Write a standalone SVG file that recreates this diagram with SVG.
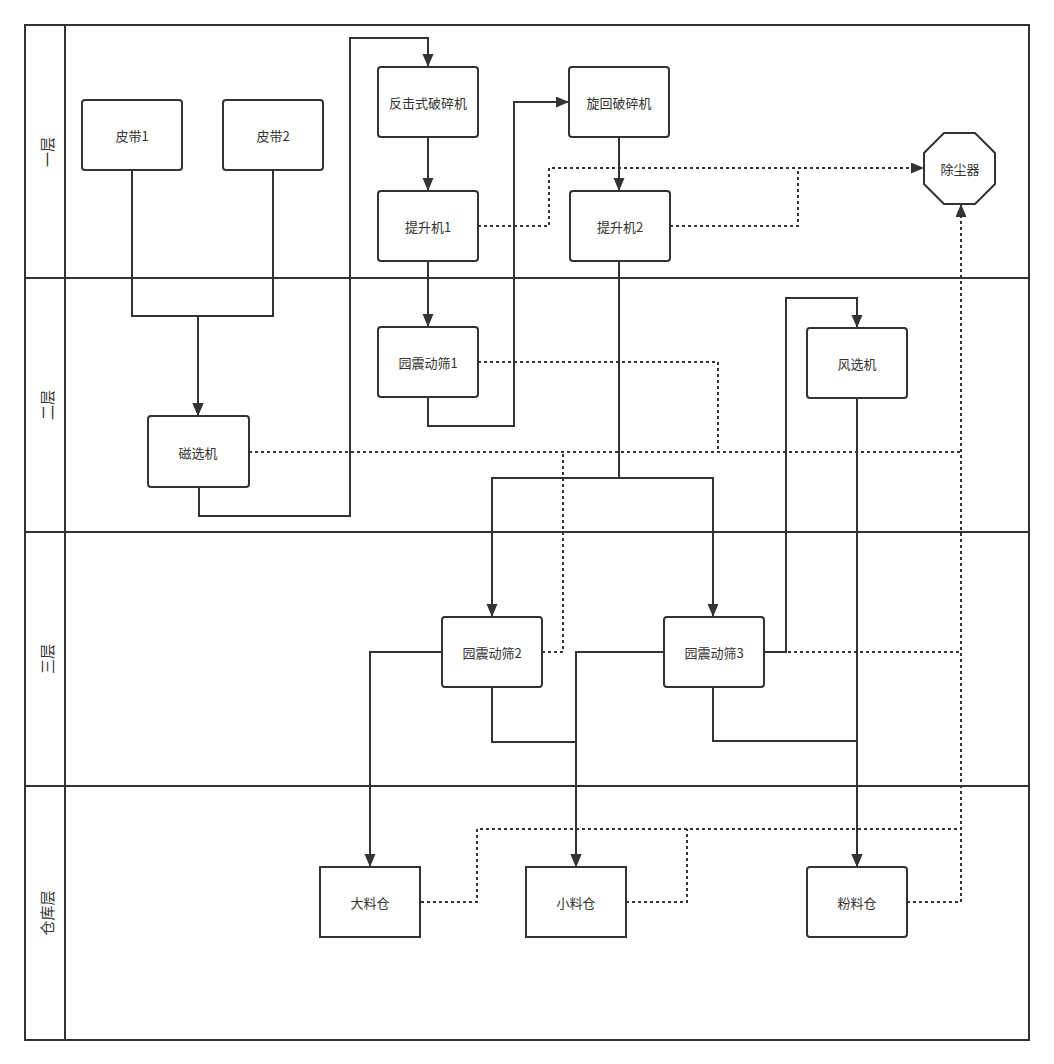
<svg xmlns="http://www.w3.org/2000/svg" width="1054" height="1064" viewBox="0 0 1054 1064">
<defs>
<marker id="arr" markerUnits="userSpaceOnUse" markerWidth="14" markerHeight="12" refX="13" refY="5.5" orient="auto">
<path d="M0,0 L13,5.5 L0,11 z" fill="#333"/>
</marker>
<style>
.lane{fill:none;stroke:#333;stroke-width:2}
.node{fill:#fff;stroke:#333;stroke-width:2}
.t{font-family:"Noto Sans CJK SC","Liberation Sans",sans-serif;font-size:13px;fill:#333;text-anchor:middle;dominant-baseline:central}
.lt{font-family:"Noto Sans CJK SC","Liberation Sans",sans-serif;font-size:15px;fill:#333;text-anchor:middle;dominant-baseline:central}
.c{fill:none;stroke:#333;stroke-width:2;marker-end:url(#arr)}
.d{fill:none;stroke:#333;stroke-width:2;stroke-dasharray:3 3}
.da{marker-end:url(#arr)}
</style>
</defs>
<rect width="1054" height="1064" fill="#fff"/>
<g id="lanes">
<rect class="lane" x="25" y="25" width="1004" height="1015"/>
<line class="lane" x1="65" y1="25" x2="65" y2="1040"/>
<line class="lane" x1="25" y1="278" x2="1029" y2="278"/>
<line class="lane" x1="25" y1="532" x2="1029" y2="532"/>
<line class="lane" x1="25" y1="786" x2="1029" y2="786"/>
<text class="lt" transform="translate(46,152) rotate(-90)">一层</text>
<text class="lt" transform="translate(46,405) rotate(-90)">二层</text>
<text class="lt" transform="translate(46,659) rotate(-90)">三层</text>
<text class="lt" transform="translate(46,913) rotate(-90)">仓库层</text>
</g>
<g id="connectors">
<path class="c" d="M132,170 V316 H198 V416"/>
<path class="c" d="M273,170 V316 H198 V416"/>
<path class="c" d="M199,487 V516 H350 V38 H428 V67"/>
<path class="c" d="M428,137 V191"/>
<path class="c" d="M428,261 V327"/>
<path class="c" d="M428,397 V426 H514 V102 H569"/>
<path class="c" d="M619,137 V191"/>
<path class="c" d="M619,261 V478 H492 V617"/>
<path class="c" d="M619,478 H713 V617"/>
<path class="c" d="M442,652 H370 V867"/>
<path class="c" d="M492,687 V742 H576 V867"/>
<path class="c" d="M664,652 H576 V867"/>
<path class="c" d="M764,652 H786 V298 H857 V328"/>
<path class="c" d="M713,687 V741 H857 V867"/>
<path class="c" d="M857,398 V867"/>
<path class="d da" d="M478,226 H549 V168 H924"/>
<path class="d" d="M670,226 H798 V168"/>
<path class="d da" d="M907,902 H961 V204"/>
<path class="d" d="M421,902 H477 V829 H961"/>
<path class="d" d="M626,902 H687 V829"/>
<path class="d" d="M764,652 H961"/>
<path class="d" d="M249,452 H961"/>
<path class="d" d="M478,362 H718 V452"/>
<path class="d" d="M542,652 H563 V452"/>
</g>
<g id="n-pidai1"><rect class="node" x="82" y="100" width="100" height="70" rx="3"/><text class="t" x="132" y="135">皮带1</text></g>
<g id="n-pidai2"><rect class="node" x="223" y="100" width="100" height="70" rx="3"/><text class="t" x="273" y="135">皮带2</text></g>
<g id="n-fanji"><rect class="node" x="378" y="67" width="100" height="70" rx="3"/><text class="t" x="428" y="102">反击式破碎机</text></g>
<g id="n-tisheng1"><rect class="node" x="378" y="191" width="100" height="70" rx="3"/><text class="t" x="428" y="226">提升机1</text></g>
<g id="n-xuanhui"><rect class="node" x="569" y="67" width="100" height="70" rx="3"/><text class="t" x="619" y="102">旋回破碎机</text></g>
<g id="n-tisheng2"><rect class="node" x="570" y="191" width="100" height="70" rx="3"/><text class="t" x="620" y="226">提升机2</text></g>
<g id="n-chuchen"><polygon class="node" points="944,133 975,133 995,153 995,184 975,204 944,204 924,184 924,153"/><text class="t" x="960" y="168">除尘器</text></g>
<g id="n-cixuan"><rect class="node" x="148" y="416" width="101" height="71" rx="3"/><text class="t" x="198" y="452">磁选机</text></g>
<g id="n-shai1"><rect class="node" x="378" y="327" width="100" height="70" rx="3"/><text class="t" x="428" y="362">园震动筛1</text></g>
<g id="n-fengxuan"><rect class="node" x="807" y="328" width="100" height="70" rx="3"/><text class="t" x="857" y="363">风选机</text></g>
<g id="n-shai2"><rect class="node" x="442" y="617" width="100" height="70" rx="3"/><text class="t" x="492" y="652">园震动筛2</text></g>
<g id="n-shai3"><rect class="node" x="664" y="617" width="100" height="70" rx="3"/><text class="t" x="714" y="652">园震动筛3</text></g>
<g id="n-daliao"><rect class="node" x="320" y="867" width="100" height="70"/><text class="t" x="370" y="902">大料仓</text></g>
<g id="n-xiaoliao"><rect class="node" x="526" y="867" width="100" height="70"/><text class="t" x="576" y="902">小料仓</text></g>
<g id="n-fenliao"><rect class="node" x="807" y="867" width="100" height="70" rx="3"/><text class="t" x="857" y="902">粉料仓</text></g>
</svg>
